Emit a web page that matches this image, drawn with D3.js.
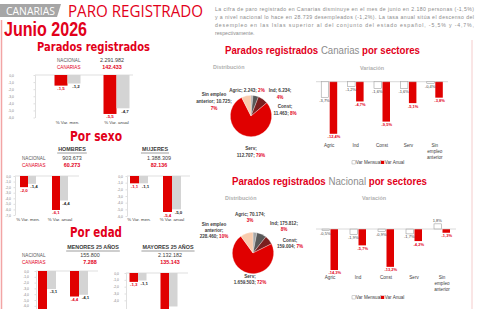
<!DOCTYPE html>
<html>
<head>
<meta charset="utf-8">
<script src="https://cdnjs.cloudflare.com/ajax/libs/d3/7.8.5/d3.min.js"></script>
<style>
body{margin:0;background:#fff;}
svg{display:block;font-family:"Liberation Sans",Arial,sans-serif;}
</style>
</head>
<body>
<div id="graph"></div>
<script>
// ---- data ----
const varCats = ["% Var. men.", "% Var. anual"];
const groupNames = ["TOTAL", "HOMBRES", "MUJERES", "MENORES 25 AÑOS", "MAYORES 25 AÑOS"];
const absNacional = [2291982, 903673, 1388309, 155800, 2132182];
const absCanarias = [142433, 60273, 82136, 7288, 135143];
const varCanarias = [[-1.5, -5.5], [-2.0, -6.1], [-1.1, -5.4], [-6.6, -4.4], [-1.3, -5.6]];
const varNacional = [[-1.2, -4.7], [-1.4, -4.4], [-1.1, -5.0], [-3.1, -4.1], [-1.1, -4.9]];

const sectors = ["Agric", "Ind", "Const", "Serv", "Sin empleo anterior"];
const paradosSectorCanarias = [2243, 6234, 11463, 112707, 10725];
const paradosSectorNacional = [70174, 175812, 159004, 1659503, 228460];
const varMensualCanarias = [-3.7, -1.2, -1.6, -1.6, -0.4];
const varAnualCanarias = [-12.4, -4.7, -9.5, -5.1, -3.8];
const varMensualNacional = [-0.5, -1.9, -0.9, -1.7, 1.8];
const varAnualNacional = [-14.3, -5.7, -13.2, -4.2, -1.3];

const intro = [
  "La cifra de paro registrado en Canarias disminuye en el mes de junio en 2.180 personas (-1,5%)",
  "y a nivel nacional lo hace en 28.739 desempleados (-1,2%). La tasa anual sitúa el descenso del",
  "desempleo en las Islas superior al del conjunto del estado español, -5,5% y -4,7%,",
  "respectivamente."
];

// ---- look ----
const RED = "#e2001a", BAR_RED = "#e00000", BAR_GRAY = "#d4d4d4";
const pieColors = ["#a6a6a6", "#595959", "#7b1f1f", "#e00000", "#f8cbad"];
const H = 309;

const loc = d3.formatLocale({decimal: ",", thousands: ".", grouping: [3], currency: ["", ""], minus: "-"});
const fmtInt = loc.format(",d");
const fmt1 = loc.format(".1f");

const svg = d3.select("#graph").append("svg").attr("width", 480).attr("height", H);

function label(x, y, s, o) {
  o = o || {};
  const t = svg.append("text").attr("x", x).attr("y", y).text(s)
    .attr("font-size", o.size || 5)
    .attr("fill", o.fill || "#404040")
    .attr("text-anchor", o.anchor || "start")
    .attr("font-weight", o.weight || "normal");
  if (o.family) t.attr("font-family", o.family);
  if (o.len) t.attr("textLength", o.len).attr("lengthAdjust", o.adjust || "spacingAndGlyphs");
  return t;
}

// borders
svg.append("line").attr("x1", 1.5).attr("x2", 1.5).attr("y1", 20).attr("y2", H).attr("stroke", "#f2a5a5").attr("stroke-width", 1.5);
svg.append("line").attr("x1", 472).attr("x2", 472).attr("y1", 40).attr("y2", H).attr("stroke", "#f5cccc").attr("stroke-width", 1);

// header
svg.append("path").attr("d", "M0,4H61L57,17H0Z").attr("fill", "#a6a6a6");
label(6, 15, "CANARIAS", {size: 10.5, fill: "#fff", len: 49, family: "Open Sans"});
label(68, 17.3, "PARO REGISTRADO", {size: 15.5, fill: RED, len: 135, family: "Open Sans"});
label(4, 36.2, "Junio 2026", {size: 20, fill: RED, weight: "bold", len: 83});
intro.forEach((line, i) => {
  label(215, 11 + 8 * i, line, {size: 5.2, fill: "#8c8c8c", len: i < 3 ? 259 : null, adjust: "spacing"});
});

label(37, 51.2, "Parados registrados", {size: 11.5, fill: RED, weight: "bold", len: 113, family: "DejaVu Sans"});
label(70, 141, "Por sexo", {size: 14, fill: RED, weight: "bold", len: 52, family: "DejaVu Sans"});
label(70, 237, "Por edad", {size: 14, fill: RED, weight: "bold", len: 52, family: "DejaVu Sans"});

// ---- small bar charts (Canarias vs Nacional) ----
const smallLayout = [
  {axisX: 35, tickX: 14, y0: 75, y1: 117.5, min: -6, band: [43, 141], barW: 13, lineEnd: 133, catY: 124, labX: 57, valX: 112, absY: 61.5, head: null},
  {axisX: 15, tickX: 11, y0: 176, y1: 215, min: -7, band: [12, 76], barW: 8, lineEnd: 79, catY: 221, labX: 22, valX: 72, absY: 159.5, head: [72, 151]},
  {axisX: 127, tickX: 123, y0: 176, y1: 216, min: -6, band: [122.5, 188.5], barW: 9, lineEnd: 190, catY: 221, labX: null, valX: 159, absY: 159.5, head: [155, 151]},
  {axisX: 36, tickX: 29, y0: 271, y1: 311.6, min: -7, band: [31, 95], barW: 9, lineEnd: 98, catY: 330, labX: 22, valX: 90, absY: 256.5, head: [93, 249]},
  {axisX: 126, tickX: 119, y0: 273, y1: 314, min: -6, band: [122.5, 184.5], barW: 8.5, lineEnd: 188, catY: 330, labX: null, valX: 170, absY: 256.5, head: [168, 249]}
];

function smallChart(k) {
  const cfg = smallLayout[k];
  const y = d3.scaleLinear().domain([cfg.min, 0]).range([cfg.y1, cfg.y0]);
  const x = d3.scaleBand().domain(varCats).range(cfg.band);
  const rows = varCats.map((c, i) => ({c: c, can: varCanarias[k][i], nac: varNacional[k][i]}));

  if (cfg.head) {
    const h = label(cfg.head[0], cfg.head[1], groupNames[k], {size: 5.4, weight: "bold", anchor: "middle", fill: "#3a3a3a"});
    const w = h.node().getComputedTextLength();
    svg.append("line").attr("x1", cfg.head[0] - w / 2 - 1).attr("x2", cfg.head[0] + w / 2 + 1)
      .attr("y1", cfg.head[1] + 2).attr("y2", cfg.head[1] + 2).attr("stroke", "#3a3a3a").attr("stroke-width", 0.5);
  }
  if (cfg.labX !== null) {
    label(cfg.labX, cfg.absY, "NACIONAL", {size: 4.6, fill: "#595959"});
    label(cfg.labX, cfg.absY + 7, "CANARIAS", {size: 4.6, fill: RED});
  }
  label(cfg.valX, cfg.absY, fmtInt(absNacional[k]), {size: 5.4, anchor: "middle", fill: "#404040"});
  label(cfg.valX, cfg.absY + 7, fmtInt(absCanarias[k]), {size: 5.4, anchor: "middle", fill: RED, weight: "bold"});

  const g = svg.append("g");
  const ticks = d3.range(0, cfg.min - 0.5, -1).filter(v => y(v) <= H - 2.5);
  const ax = g.append("g").attr("transform", `translate(${cfg.axisX},0)`)
    .call(d3.axisLeft(y).tickValues(ticks).tickSize(1.5).tickSizeOuter(0).tickFormat(fmt1));
  ax.select(".domain").attr("stroke", "#bfbfbf").attr("stroke-width", 0.5);
  ax.selectAll(".tick line").attr("stroke", "#bfbfbf").attr("stroke-width", 0.5);
  ax.selectAll("text").attr("font-size", 3.4).attr("fill", "#7f7f7f").attr("x", cfg.tickX - cfg.axisX)
    .attr("font-family", "Liberation Sans");
  g.append("line").attr("x1", cfg.axisX).attr("x2", cfg.lineEnd).attr("y1", y(0)).attr("y2", y(0))
    .attr("stroke", "#bfbfbf").attr("stroke-width", 0.5);

  const mid = d => x(d.c) + x.bandwidth() / 2;
  g.selectAll(".can").data(rows).join("rect").attr("class", "can")
    .attr("x", d => mid(d) - cfg.barW).attr("y", y(0))
    .attr("width", cfg.barW).attr("height", d => y(d.can) - y(0)).attr("fill", BAR_RED);
  g.selectAll(".nac").data(rows).join("rect").attr("class", "nac")
    .attr("x", d => mid(d)).attr("y", y(0))
    .attr("width", cfg.barW).attr("height", d => y(d.nac) - y(0)).attr("fill", BAR_GRAY);
  // only the labels that fall inside the picture
  g.selectAll(".canL").data(rows.filter(d => y(d.can) + 4.5 < H)).join("text").attr("class", "canL")
    .attr("x", d => mid(d) - cfg.barW / 2).attr("y", d => y(d.can) + 4.5)
    .attr("text-anchor", "middle").attr("font-size", 4.4).attr("font-weight", "bold").attr("fill", RED)
    .text(d => fmt1(d.can));
  g.selectAll(".nacL").data(rows.filter(d => y(d.nac) + 4.5 < H)).join("text").attr("class", "nacL")
    .attr("x", d => mid(d) + cfg.barW / 2 + 2).attr("y", d => y(d.nac) + 4.5)
    .attr("text-anchor", "middle").attr("font-size", 4.4).attr("font-weight", "bold").attr("fill", "#262626")
    .text(d => fmt1(d.nac));
  if (cfg.catY < H) {
    g.selectAll(".cat").data(rows).join("text").attr("class", "cat")
      .attr("x", d => mid(d)).attr("y", cfg.catY)
      .attr("text-anchor", "middle").attr("font-size", 4.4).attr("fill", "#404040")
      .text(d => d.c);
  }
}
for (let k = 0; k < smallLayout.length; k++) smallChart(k);

// ---- sector panels ----
function sectorTitle(x, y, region) {
  const g = svg.append("g");
  const parts = [["Parados registrados", RED, "bold"], [region, "#8c8c8c", "normal"], ["por sectores", RED, "bold"]];
  let cx = 0;
  parts.forEach(p => {
    const t = g.append("text").attr("x", cx).attr("y", 0).attr("font-size", 11).attr("font-weight", p[2])
      .attr("fill", p[1]).text(p[0]);
    cx += t.node().getComputedTextLength() + 3;
  });
  const sx = 195 / (cx - 3);
  g.attr("transform", `translate(${x},${y}) scale(${sx},1)`);
}
sectorTitle(225, 54, "Canarias");
sectorTitle(232, 185, "Nacional");
label(213, 69, "Distribución", {size: 5.4, weight: "bold", fill: "#b0b0b0"});
label(360, 69.5, "Variación", {size: 5.4, weight: "bold", fill: "#b0b0b0"});
label(225, 200, "Distribución", {size: 5.4, weight: "bold", fill: "#b0b0b0"});
label(362, 200, "Variación", {size: 5.4, weight: "bold", fill: "#b0b0b0"});

const pieLayouts = [
  {cx: 251, cy: 116, r: 20.7, lh: 7,
   lab: [[-4, -24], [29, -24], [34, -8], [0, 34], [-37, -20]],
   tpl: ["{n}; {v}; {p}", "{n}; {v};\n{p}", "{n};\n{v}; {p}", "{n};\n{v}; {p}", "{a}\n{b}; {v};\n{p}"]},
  {cx: 253, cy: 253, r: 20.7, lh: 5.8,
   lab: [[-3, -37], [31, -28], [37, -11], [-3, 25], [-39, -27]],
   tpl: ["{n}; {v};\n{p}", "{n}; {v};\n{p}", "{n};\n{v}; {p}", "{n};\n{v}; {p}", "{a}\n{b};\n{v}; {p}"]}
];

function pieChart(cfg, values) {
  const total = d3.sum(values);
  const arcs = d3.pie().sort(null)(values);
  const arc = d3.arc().innerRadius(0).outerRadius(cfg.r);
  const g = svg.append("g").attr("transform", `translate(${cfg.cx},${cfg.cy})`);
  g.selectAll("path").data(arcs).join("path").attr("d", arc)
    .attr("fill", (d, i) => pieColors[i]).attr("stroke", "#fff").attr("stroke-width", 0.3);
  arcs.forEach((a, i) => {
    const w = sectors[i].split(" ");
    const s = cfg.tpl[i].replace("{n}", sectors[i]).replace("{a}", w.slice(0, 2).join(" "))
      .replace("{b}", w.slice(2).join(" ")).replace("{v}", fmtInt(values[i]));
    const pct = Math.round(values[i] / total * 100) + "%";
    s.split("\n").forEach((line, k) => {
      const t = g.append("text").attr("x", cfg.lab[i][0]).attr("y", cfg.lab[i][1] + k * cfg.lh)
        .attr("text-anchor", "middle").attr("font-size", 4.6).attr("font-weight", "bold").attr("fill", "#404040");
      line.split("{p}").forEach((part, j) => {
        if (j > 0) t.append("tspan").attr("fill", RED).text(pct);
        if (part) t.append("tspan").text(part);
      });
    });
  });
}
pieChart(pieLayouts[0], paradosSectorCanarias);
pieChart(pieLayouts[1], paradosSectorNacional);

const varLayouts = [
  {band: [316, 448], dom: [-13, 0], rng: [136.3, 81.7], catY: 147, legY: 164},
  {band: [316, 456], dom: [-15, 2], rng: [272, 223.3], catY: 279, legY: 299}
];

function varChart(cfg, mens, anual) {
  const x = d3.scaleBand().domain(sectors).range(cfg.band);
  const y = d3.scaleLinear().domain(cfg.dom).range(cfg.rng);
  const rows = sectors.map((s, i) => ({s: s, m: mens[i], a: anual[i]}));
  const bw = 7.5;
  const mid = d => x(d.s) + x.bandwidth() / 2;
  const g = svg.append("g");

  g.selectAll(".m").data(rows).join("rect").attr("class", "m")
    .attr("x", d => mid(d) - bw - 0.5).attr("y", d => Math.min(y(d.m), y(0)))
    .attr("width", bw).attr("height", d => Math.abs(y(d.m) - y(0)))
    .attr("fill", "#fff").attr("stroke", "#8c8c8c").attr("stroke-width", 0.5);
  g.selectAll(".a").data(rows).join("rect").attr("class", "a")
    .attr("x", d => mid(d) + 0.5).attr("y", d => Math.min(y(d.a), y(0)))
    .attr("width", bw).attr("height", d => Math.abs(y(d.a) - y(0))).attr("fill", BAR_RED);
  g.append("line").attr("x1", cfg.band[0]).attr("x2", cfg.band[1]).attr("y1", y(0)).attr("y2", y(0))
    .attr("stroke", "#bfbfbf").attr("stroke-width", 0.6);

  const pos = v => (v < 0 ? 4.5 : -2);
  g.selectAll(".mL").data(rows).join("text").attr("class", "mL")
    .attr("x", d => mid(d) - bw / 2 - 1).attr("y", d => y(d.m) + pos(d.m))
    .attr("text-anchor", "middle").attr("font-size", 4).attr("fill", "#404040")
    .text(d => fmt1(d.m) + "%");
  g.selectAll(".aL").data(rows).join("text").attr("class", "aL")
    .attr("x", d => mid(d) + bw / 2 + 1).attr("y", d => y(d.a) + pos(d.a))
    .attr("text-anchor", "middle").attr("font-size", 4).attr("font-weight", "bold").attr("fill", RED)
    .text(d => fmt1(d.a) + "%");

  rows.forEach(d => {
    const t = g.append("text").attr("text-anchor", "middle").attr("font-size", 4.6).attr("fill", "#404040");
    d.s.split(" ").forEach((w, k) => {
      t.append("tspan").attr("x", mid(d)).attr("y", cfg.catY + k * 6).text(w);
    });
  });

  const lg = g.append("g").attr("transform", `translate(352,${cfg.legY})`);
  lg.append("rect").attr("x", 0).attr("y", -3.2).attr("width", 3.2).attr("height", 3.2)
    .attr("fill", "#fff").attr("stroke", "#8c8c8c").attr("stroke-width", 0.4);
  lg.append("text").attr("x", 3.8).attr("y", 0).attr("font-size", 4.6).attr("fill", "#404040").text("Var Mensual");
  lg.append("rect").attr("x", 29).attr("y", -3.2).attr("width", 3.2).attr("height", 3.2).attr("fill", BAR_RED);
  lg.append("text").attr("x", 32.8).attr("y", 0).attr("font-size", 4.6).attr("fill", "#404040").text("Var Anual");
}
varChart(varLayouts[0], varMensualCanarias, varAnualCanarias);
varChart(varLayouts[1], varMensualNacional, varAnualNacional);
</script>
</body>
</html>
